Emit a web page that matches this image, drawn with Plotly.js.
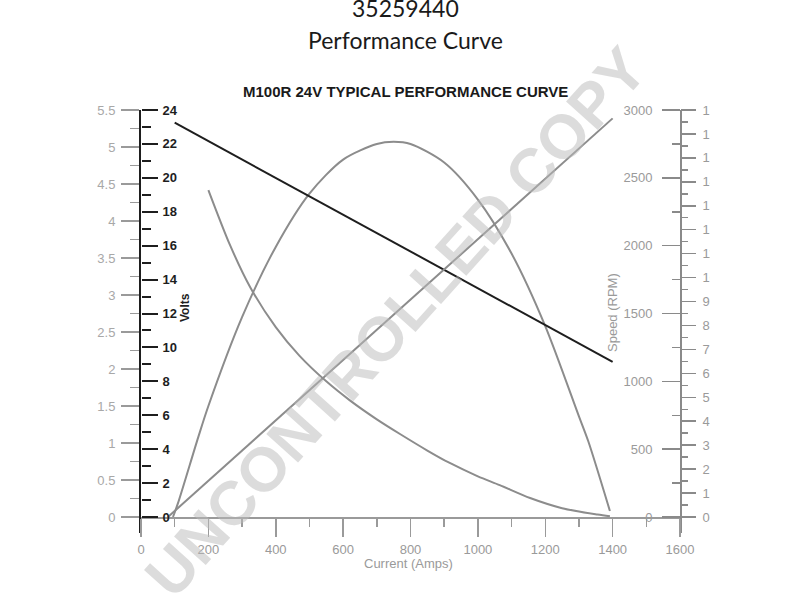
<!DOCTYPE html>
<html>
<head>
<meta charset="utf-8">
<script src="https://cdn.plot.ly/plotly-3.0.1.min.js"></script>
<style>html,body{margin:0;padding:0;background:#fff;}</style>
</head>
<body>
<div id="chart" style="width:800px;height:600px;"></div>
<script>
// ---- data ----
const voltsCurrent = [100, 1400];
const volts = [23.25, 9.15];

const torqueCurrent = [80, 1400];
const torque = [0, 16.65];

const powerCurrent = [95, 110, 170, 200, 300, 400, 500, 600, 700, 750, 800, 900, 1000, 1100, 1200, 1300, 1328, 1392];
const powerKW =      [0, 0.19, 1.08, 1.5, 2.7, 3.65, 4.37, 4.83, 5.04, 5.07, 5.04, 4.79, 4.29, 3.56, 2.58, 1.36, 1.02, 0.08];

const speedCurrent = [200, 265, 325, 400, 470, 550, 620, 700, 770, 850, 915, 1000, 1065, 1155, 1250, 1355, 1392];
const speedRPM =     [2410, 2000, 1690, 1400, 1190, 1000, 860, 720, 610, 490, 400, 300, 235, 140, 65, 18, 5];

const xTickVals = [0, 200, 400, 600, 800, 1000, 1200, 1400, 1600];
const xTickText = ['0', '200', '400', '600', '800', '1000', '1200', '1400', '1600'];

const mainTitle = '35259440';
const subTitle = 'Performance Curve';
const chartTitle = 'M100R 24V TYPICAL PERFORMANCE CURVE';

// ---- helpers for axis tick positions ----
function steps(start, stop, step) { const a = []; for (let v = start; v <= stop + 1e-9; v += step) a.push(+v.toFixed(4)); return a; }
function minorOnly(start, stop, step, majorStep) {
  return steps(start, stop, step).filter(v => Math.abs(v / majorStep - Math.round(v / majorStep)) > 1e-6);
}

const FONT = 'Liberation Sans, Arial, sans-serif';
const GRAY = '#9a9a9a';
const DARK = '#1e1e1e';
const plotH = 423, zeroOff = 16, fullH = 407;
const lowFrac = zeroOff / fullH;

const traces = [
  {x: torqueCurrent, y: torque, yaxis: 'y4', mode: 'lines', line: {color: '#8c8c8c', width: 2}, hoverinfo: 'skip'},
  {x: powerCurrent, y: powerKW, yaxis: 'y', mode: 'lines', line: {color: '#8c8c8c', width: 2, shape: 'spline', smoothing: 0.8}, hoverinfo: 'skip'},
  {x: speedCurrent, y: speedRPM, yaxis: 'y3', mode: 'lines', line: {color: '#8c8c8c', width: 2, shape: 'spline', smoothing: 0.8}, hoverinfo: 'skip'},
  {x: voltsCurrent, y: volts, yaxis: 'y2', mode: 'lines', line: {color: DARK, width: 2}, hoverinfo: 'skip'}
];

const px = v => (v - 141) / 539;
const py = v => (533 - v) / plotH;

const layout = {
  width: 800, height: 600,
  margin: {l: 141, r: 120, t: 110, b: 67},
  paper_bgcolor: '#fff', plot_bgcolor: '#fff',
  showlegend: false,
  font: {family: FONT},
  xaxis: {
    range: [0, 1600], anchor: 'free', position: zeroOff / plotH,
    tickmode: 'array', tickvals: xTickVals, ticktext: xTickText,
    ticks: 'outside', ticklen: 18, tickwidth: 1.5, tickcolor: GRAY,
    minor: {tickmode: 'array', tickvals: minorOnly(0, 1600, 100, 200), ticks: 'outside', ticklen: 8, tickwidth: 1.5, tickcolor: GRAY},
    showline: true, linecolor: GRAY, linewidth: 1.5,
    tickfont: {size: 13, color: GRAY, family: FONT}, ticklabelstandoff: 2,
    showgrid: false, zeroline: false, fixedrange: true
  },
  yaxis: {
    range: [-5.5 * lowFrac, 5.5], side: 'left', anchor: 'x',
    tickmode: 'array', tickvals: steps(0, 5.5, 0.5),
    ticks: 'outside', ticklen: 18, tickwidth: 1.5, tickcolor: GRAY,
    minor: {tickmode: 'array', tickvals: minorOnly(0, 5.5, 0.25, 0.5), ticks: 'outside', ticklen: 9, tickwidth: 1.5, tickcolor: GRAY},
    showline: true, linecolor: DARK, linewidth: 2,
    tickfont: {size: 13, color: '#a8a8a8', family: FONT}, ticklabelstandoff: 3,
    showgrid: false, zeroline: false, fixedrange: true
  },
  yaxis2: {
    range: [-24 * lowFrac, 24], overlaying: 'y', side: 'right', anchor: 'free', position: 0,
    tickmode: 'array', tickvals: steps(0, 24, 2),
    ticks: 'outside', ticklen: 16, tickwidth: 2, tickcolor: DARK,
    minor: {tickmode: 'array', tickvals: minorOnly(0, 24, 1, 2), ticks: 'outside', ticklen: 9, tickwidth: 2, tickcolor: DARK},
    showline: false,
    tickfont: {size: 13, color: DARK, family: FONT, weight: 'bold'}, ticklabelstandoff: 2,
    showgrid: false, zeroline: false, fixedrange: true
  },
  yaxis3: {
    range: [-3000 * lowFrac, 3000], overlaying: 'y', side: 'left', anchor: 'free', position: 1,
    tickmode: 'array', tickvals: steps(0, 3000, 500),
    ticks: 'outside', ticklen: 18, tickwidth: 1.5, tickcolor: '#8a8a8a',
    minor: {tickmode: 'array', tickvals: minorOnly(0, 3000, 250, 500), ticks: 'outside', ticklen: 8, tickwidth: 1.5, tickcolor: '#8a8a8a'},
    showline: true, linecolor: '#8a8a8a', linewidth: 1.5,
    tickfont: {size: 13, color: GRAY, family: FONT}, ticklabelstandoff: 7,
    showgrid: false, zeroline: false, fixedrange: true
  },
  yaxis4: {
    range: [-17 * lowFrac, 17], overlaying: 'y', side: 'right', anchor: 'x',
    tickmode: 'array', tickvals: steps(0, 17, 1),
    ticks: 'outside', ticklen: 15, tickwidth: 1.5, tickcolor: '#8a8a8a',
    minor: {tickmode: 'array', tickvals: minorOnly(0, 17, 0.5, 1), ticks: 'outside', ticklen: 7, tickwidth: 1.5, tickcolor: '#8a8a8a'},
    showline: false,
    tickfont: {size: 13, color: GRAY, family: FONT}, ticklabelstandoff: 4,
    showgrid: false, zeroline: false, fixedrange: true
  },
  shapes: [
    {type: 'rect', xref: 'paper', yref: 'paper', x0: px(710), x1: px(800), y0: py(600), y1: py(0),
     fillcolor: '#ffffff', line: {width: 0}, layer: 'above'}
  ],
  annotations: [
    {text: 'UNCONTROLLED COPY', xref: 'paper', yref: 'paper', x: px(395), y: py(322), xanchor: 'center', yanchor: 'middle',
     showarrow: false, textangle: -48, font: {size: 62, family: FONT, weight: 'bold', color: 'rgba(185,185,185,0.5)'}},
    {text: mainTitle, xref: 'paper', yref: 'paper', x: px(405), y: py(8), xanchor: 'center', yanchor: 'middle',
     showarrow: false, font: {size: 23, family: 'Lato, Noto Sans, sans-serif', color: '#1a1a1a'}},
    {text: subTitle, xref: 'paper', yref: 'paper', x: px(405), y: py(40), xanchor: 'center', yanchor: 'middle',
     showarrow: false, font: {size: 23, family: 'Lato, Noto Sans, sans-serif', color: '#1a1a1a'}},
    {text: chartTitle, xref: 'paper', yref: 'paper', x: px(405), y: py(92), xanchor: 'center', yanchor: 'middle',
     showarrow: false, font: {size: 15, family: FONT, weight: 'bold', color: '#1a1a1a'}},
    {text: 'Volts', xref: 'paper', yref: 'paper', x: px(185), y: py(308), xanchor: 'center', yanchor: 'middle',
     showarrow: false, textangle: -90, font: {size: 12, family: FONT, weight: 'bold', color: DARK}},
    {text: 'Speed (RPM)', xref: 'paper', yref: 'paper', x: px(612), y: py(313), xanchor: 'center', yanchor: 'middle',
     showarrow: false, textangle: -90, font: {size: 13, family: FONT, color: GRAY}},
    {text: 'Current (Amps)', xref: 'paper', yref: 'paper', x: px(408), y: py(563), xanchor: 'center', yanchor: 'middle',
     showarrow: false, font: {size: 13, family: FONT, color: GRAY}}
  ]
};

Plotly.newPlot('chart', traces, layout, {staticPlot: true, displayModeBar: false});
</script>
</body>
</html>
